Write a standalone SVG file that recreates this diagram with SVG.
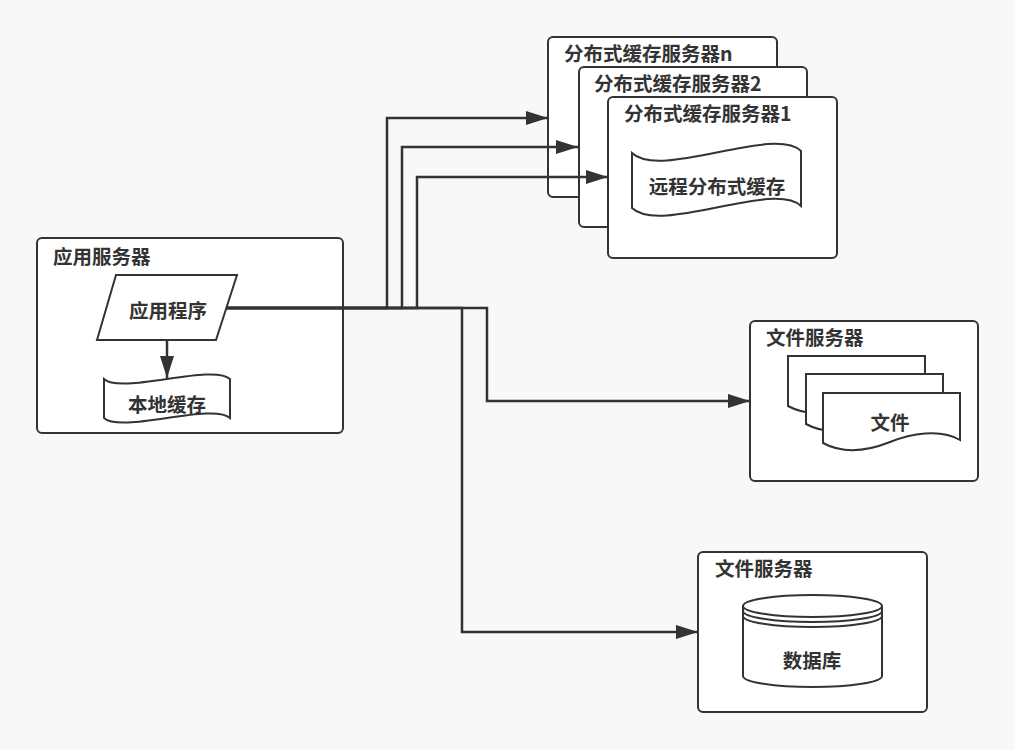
<svg xmlns="http://www.w3.org/2000/svg" width="1015" height="750" viewBox="0 0 1015 750">
<style>
.box{fill:#fff;stroke:#333;stroke-width:2;}
.shape{fill:#fff;stroke:#333;stroke-width:2;}
.title{font-family:"Noto Sans CJK SC","Liberation Sans",sans-serif;font-size:19.5px;font-weight:bold;fill:#333;dominant-baseline:central;}
.lbl{font-family:"Noto Sans CJK SC","Liberation Sans",sans-serif;font-size:19.5px;font-weight:bold;fill:#333;dominant-baseline:central;text-anchor:middle;}
.conn{fill:none;stroke:#333;stroke-width:2.5;}
</style>
<defs>
<marker id="arr" markerUnits="userSpaceOnUse" markerWidth="24" markerHeight="16" refX="22" refY="7" orient="auto">
<path d="M0,0 L22,7 L0,14 z" fill="#333"/>
</marker>
<path id="doc" d="M823,393 H960 V440 C940,428 910,434 890,442 C870,450 845,455 823,443 Z"/>
</defs>
<rect width="1015" height="750" fill="#f8f8f8"/>

<g id="app-server">
<rect class="box" x="37" y="238" width="306" height="195" rx="5"/>
<text class="title" x="53" y="255">应用服务器</text>
</g>
<g id="app-program">
<polygon class="shape" points="116,275 237,275 216,340 97,340"/>
<text class="lbl" x="168" y="309">应用程序</text>
</g>
<g id="local-cache">
<path class="shape" d="M104,379 C121,395 213,363 230,379 V418 C213,402 121,434 104,418 Z"/>
<text class="lbl" x="167" y="403">本地缓存</text>
</g>

<g id="cache-server-n">
<rect class="box" x="548" y="37" width="229" height="160" rx="5"/>
<text class="title" x="564" y="52">分布式缓存服务器n</text>
</g>
<g id="cache-server-2">
<rect class="box" x="579" y="67" width="228" height="160" rx="5"/>
<text class="title" x="594" y="82">分布式缓存服务器2</text>
</g>
<g id="cache-server-1">
<rect class="box" x="608" y="97" width="229" height="161" rx="5"/>
<text class="title" x="624" y="112">分布式缓存服务器1</text>
</g>
<g id="remote-cache">
<path class="shape" d="M632,153 C660,180 774,125 801,151 V206 C774,180 660,235 632,208 Z"/>
<text class="lbl" x="717" y="185">远程分布式缓存</text>
</g>

<g id="file-server">
<rect class="box" x="750" y="321" width="228" height="160" rx="5"/>
<text class="title" x="766" y="336">文件服务器</text>
</g>
<g id="files">
<use href="#doc" class="shape" transform="translate(-35,-37)"/>
<use href="#doc" class="shape" transform="translate(-17,-19)"/>
<use href="#doc" class="shape"/>
<text class="lbl" x="890" y="421">文件</text>
</g>

<g id="db-server">
<rect class="box" x="698" y="552" width="229" height="160" rx="5"/>
<text class="title" x="715" y="567">文件服务器</text>
</g>
<g id="database">
<path class="shape" d="M743,606 V676 A69.5,11 0 0 0 882,676 V606"/>
<ellipse class="shape" cx="812.5" cy="606" rx="69.5" ry="11"/>
<path fill="none" stroke="#333" stroke-width="2" d="M743,611 A69.5,11 0 0 0 882,611 M743,616 A69.5,11 0 0 0 882,616"/>
<text class="lbl" x="812" y="659">数据库</text>
</g>

<g id="connectors">
<path class="conn" d="M226,308 H387 V118 H548" marker-end="url(#arr)"/>
<path class="conn" d="M226,308 H402 V147 H578" marker-end="url(#arr)"/>
<path class="conn" d="M226,308 H417 V177 H608" marker-end="url(#arr)"/>
<path class="conn" d="M226,308 H487 V401 H750" marker-end="url(#arr)"/>
<path class="conn" d="M226,308 H462 V632 H698" marker-end="url(#arr)"/>
<path class="conn" d="M167,340 V378" marker-end="url(#arr)"/>
</g>
</svg>
